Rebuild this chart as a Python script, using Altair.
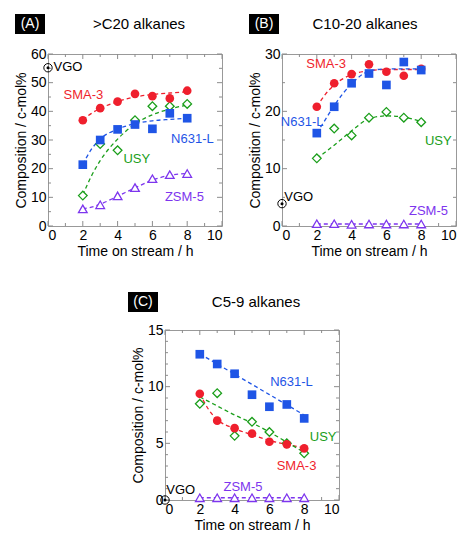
import altair as alt
import pandas as pd

FONT = "Liberation Sans"

# ---------------- data ----------------
series = ["SMA-3", "N631-L", "USY", "ZSM-5"]
colors = ["#ef1f2d", "#1f55e6", "#1a9e1a", "#7d35ee"]
shapes = ["circle", "square", "diamond", "triangle-up"]
sizes = [75, 75, 130, 110]

time = [2, 3, 4, 5, 6, 7, 8]
fit_time = [2, 2.5, 3, 4, 5, 6, 7, 8]

# (A) >C20 alkanes
a_sma3 = [36.9, 41.1, 43.4, 46.1, 45.3, 44.5, 47.2]
a_n631 = [21.4, 30.0, 33.7, 35.4, 33.9, 39.3, 37.6]
a_usy = [10.6, 28.6, 26.4, 36.9, 41.8, 41.8, 42.6]
a_zsm5 = [6.0, 7.4, 10.5, 13.4, 16.5, 17.9, 18.3]
a_fit_sma3 = [37.0, 39.3, 41.0, 43.4, 45.0, 45.9, 46.4, 46.8]
a_fit_n631 = [21.5, 26.8, 30.3, 33.8, 35.7, 36.7, 37.2, 37.6]
a_fit_usy = [10.8, 17.5, 22.8, 30.3, 35.6, 38.8, 40.8, 42.2]
a_fit_zsm5 = [6.0, 6.6, 7.6, 10.4, 13.3, 16.0, 17.7, 18.3]
a_lab_x = [2.03, 8.3, 5.1, 7.84]
a_lab_y = [45.8, 30.2, 23.4, 10.2]
a_vgo = [0, 55.2]
a_vgo_text = [1.15, 55.6]

# (B) C10-20 alkanes
b_sma3 = [20.8, 24.9, 26.5, 28.2, 26.9, 26.2, 27.4]
b_n631 = [16.2, 20.8, 24.9, 26.6, 24.6, 28.6, 27.2]
b_usy = [11.8, 17.0, 15.8, 18.9, 19.9, 18.9, 18.1]
b_zsm5 = [0.4, 0.4, 0.3, 0.35, 0.35, 0.35, 0.35]
b_fit_sma3 = [20.8, 23.0, 24.6, 26.4, 27.1, 27.3, 27.3, 27.3]
b_fit_n631 = [16.2, 18.6, 21.0, 24.8, 27.0, 27.4, 27.4, 27.4]
b_fit_usy = [11.8, 12.9, 14.1, 16.6, 18.7, 19.2, 19.0, 18.2]
b_fit_zsm5 = [0.35, 0.35, 0.35, 0.35, 0.35, 0.35, 0.35, 0.35]
b_lab_x = [2.54, 1.16, 8.98, 8.42]
b_lab_y = [28.2, 18.2, 14.9, 2.55]
b_vgo = [0, 3.9]
b_vgo_text = [0.96, 5.1]

# (C) C5-9 alkanes
c_sma3 = [9.37, 7.0, 6.34, 5.86, 5.14, 4.91, 4.55]
c_n631 = [12.86, 12.0, 11.14, 9.29, 8.23, 8.43, 7.2]
c_usy = [8.49, 9.43, 5.66, 6.9, 6.0, 5.0, 4.12]
c_zsm5 = [0.2, 0.2, 0.2, 0.2, 0.2, 0.2, 0.2]
c_fit_sma3 = [9.4, 8.0, 7.1, 6.3, 5.75, 5.25, 4.9, 4.6]
c_fit_n631 = [12.9, 12.45, 12.0, 11.1, 10.2, 9.3, 8.4, 7.5]
c_fit_usy = [9.1, 8.7, 8.3, 7.5, 6.8, 6.0, 5.1, 4.2]
c_fit_zsm5 = [0.2, 0.2, 0.2, 0.2, 0.2, 0.2, 0.2, 0.2]
c_lab_x = [7.56, 7.27, 9.09, 4.48]
c_lab_y = [3.0, 10.4, 5.57, 1.15]
c_vgo = [0, 0]
c_vgo_text = [0.9, 0.86]

x_major = [0, 2, 4, 6, 8, 10]
x_minor = [1, 3, 5, 7, 9]
a_y_major = [0, 10, 20, 30, 40, 50, 60]
a_y_minor = [5, 15, 25, 35, 45, 55]
b_y_major = [0, 10, 20, 30]
b_y_minor = [5, 15, 25]
c_y_major = [0, 5, 10, 15]
c_y_minor = [1, 2, 3, 4, 6, 7, 8, 9, 11, 12, 13, 14]

W = 174
H1 = 172
H2 = 170

cscale = alt.Scale(domain=series, range=colors)
sscale = alt.Scale(domain=series, range=shapes)
zscale = alt.Scale(domain=series, range=sizes)
TICK = "#8c8c8c"


def panel(pts, fits, lab_x, lab_y, vgo, vgo_text, ydom, ymaj, ymin,
          tag, heading, H, box_x0, box_y0, head_dx):
    X = alt.X("x:Q", scale=alt.Scale(domain=[0, 10], nice=False),
              axis=alt.Axis(values=x_major, title="Time on stream / h"))
    Y = alt.Y("y:Q", scale=alt.Scale(domain=ydom, nice=False),
              axis=alt.Axis(values=ymaj, title="Composition / c-mol%"))

    rows = []
    for s, vals in zip(series, pts):
        for t, v in zip(time, vals):
            rows.append({"x": t, "y": v, "s": s})
    dpts = pd.DataFrame(rows)
    frows = []
    for s, vals in zip(series, fits):
        for t, v in zip(fit_time, vals):
            frows.append({"x": t, "y": v, "s": s})
    dfit = pd.DataFrame(frows)
    dlab = pd.DataFrame({"x": lab_x, "y": lab_y, "s": series, "c": colors})

    fit = alt.Chart(dfit).mark_line(
        strokeDash=[4, 3], strokeWidth=1.3, interpolate="monotone"
    ).encode(x=X, y=Y, color=alt.Color("s:N", scale=cscale, legend=None),
             detail="s:N")

    filled = alt.Chart(dpts[dpts.s.isin(["SMA-3", "N631-L"])]).mark_point(
        filled=True, opacity=1
    ).encode(x=X, y=Y,
             color=alt.Color("s:N", scale=cscale, legend=None),
             shape=alt.Shape("s:N", scale=sscale, legend=None),
             size=alt.Size("s:N", scale=zscale, legend=None))

    opened = alt.Chart(dpts[dpts.s.isin(["USY", "ZSM-5"])]).mark_point(
        filled=False, fill="white", fillOpacity=1, opacity=1, strokeWidth=1.3
    ).encode(x=X, y=Y,
             color=alt.Color("s:N", scale=cscale, legend=None),
             shape=alt.Shape("s:N", scale=sscale, legend=None),
             size=alt.Size("s:N", scale=zscale, legend=None))

    labels = alt.Chart(dlab).mark_text(
        font=FONT, fontSize=13, align="center", baseline="middle"
    ).encode(x=X, y=Y, text="s:N", color=alt.Color("c:N", scale=None))

    dv = pd.DataFrame({"x": [vgo[0]], "y": [vgo[1]]})
    vgo_ring = alt.Chart(dv).mark_point(
        shape="circle", size=70, filled=False, color="black", strokeWidth=1, opacity=1
    ).encode(x=X, y=Y)
    vgo_dot = alt.Chart(dv).mark_point(
        shape="circle", size=9, filled=True, color="black", opacity=1
    ).encode(x=X, y=Y)
    dvt = pd.DataFrame({"x": [vgo_text[0]], "y": [vgo_text[1]], "t": ["VGO"]})
    vgo_lab = alt.Chart(dvt).mark_text(
        font=FONT, fontSize=13, align="center", baseline="middle", color="black"
    ).encode(x=X, y=Y, text="t:N")

    # inner ticks on all four sides
    tk = []
    for vals, ln in ((x_major, 5), (x_minor, 3)):
        d = pd.DataFrame({"x": vals})
        tk.append(alt.Chart(d).mark_rule(color=TICK, strokeWidth=1).encode(
            x=X, y=alt.value(H), y2=alt.value(H - ln)))
        tk.append(alt.Chart(d).mark_rule(color=TICK, strokeWidth=1).encode(
            x=X, y=alt.value(0), y2=alt.value(ln)))
    for vals, ln in ((ymaj, 5), (ymin, 3)):
        d = pd.DataFrame({"y": vals})
        tk.append(alt.Chart(d).mark_rule(color=TICK, strokeWidth=1).encode(
            y=Y, x=alt.value(0), x2=alt.value(ln)))
        tk.append(alt.Chart(d).mark_rule(color=TICK, strokeWidth=1).encode(
            y=Y, x=alt.value(W - ln), x2=alt.value(W)))

    one = pd.DataFrame({"a": [0]})
    box = alt.Chart(one).mark_rect(color="black").encode(
        x=alt.value(box_x0), x2=alt.value(box_x0 + 30),
        y=alt.value(box_y0), y2=alt.value(box_y0 + 20))
    box_t = alt.Chart(one).mark_text(
        text=tag, font=FONT, fontSize=14, color="white",
        align="center", baseline="middle"
    ).encode(x=alt.value(box_x0 + 15), y=alt.value(box_y0 + 10))
    head = alt.Chart(one).mark_text(
        text=heading, font=FONT, fontSize=15, color="black",
        align="center", baseline="middle"
    ).encode(x=alt.value(W / 2 + head_dx), y=alt.value(box_y0 + 10))

    return alt.layer(fit, *tk, opened, filled, vgo_ring, vgo_dot, vgo_lab,
                     labels, box, box_t, head).properties(width=W, height=H)


pA = panel([a_sma3, a_n631, a_usy, a_zsm5],
           [a_fit_sma3, a_fit_n631, a_fit_usy, a_fit_zsm5],
           a_lab_x, a_lab_y, a_vgo, a_vgo_text, [0, 60], a_y_major, a_y_minor,
           "(A)", ">C20 alkanes", H1, -33, -40, 4)
pB = panel([b_sma3, b_n631, b_usy, b_zsm5],
           [b_fit_sma3, b_fit_n631, b_fit_usy, b_fit_zsm5],
           b_lab_x, b_lab_y, b_vgo, b_vgo_text, [0, 30], b_y_major, b_y_minor,
           "(B)", "C10-20 alkanes", H1, -33, -40, -4)
pC = panel([c_sma3, c_n631, c_usy, c_zsm5],
           [c_fit_sma3, c_fit_n631, c_fit_usy, c_fit_zsm5],
           c_lab_x, c_lab_y, c_vgo, c_vgo_text, [0, 15], c_y_major, c_y_minor,
           "(C)", "C5-9 alkanes", H2, -37, -38, 4)

top = alt.hconcat(pA, pB, spacing=24)
chart = alt.vconcat(top, pC, spacing=32, center=True).configure_view(
    stroke="#999999", strokeWidth=1
).configure_axis(
    labelFont=FONT, titleFont=FONT, labelFontSize=14, titleFontSize=14,
    titleFontWeight="normal", labelColor="black", titleColor="black",
    ticks=False, domain=False, grid=False, labelPadding=2, titlePadding=2
)

chart.save("out.html", embed_options={"renderer": "svg", "actions": False})
